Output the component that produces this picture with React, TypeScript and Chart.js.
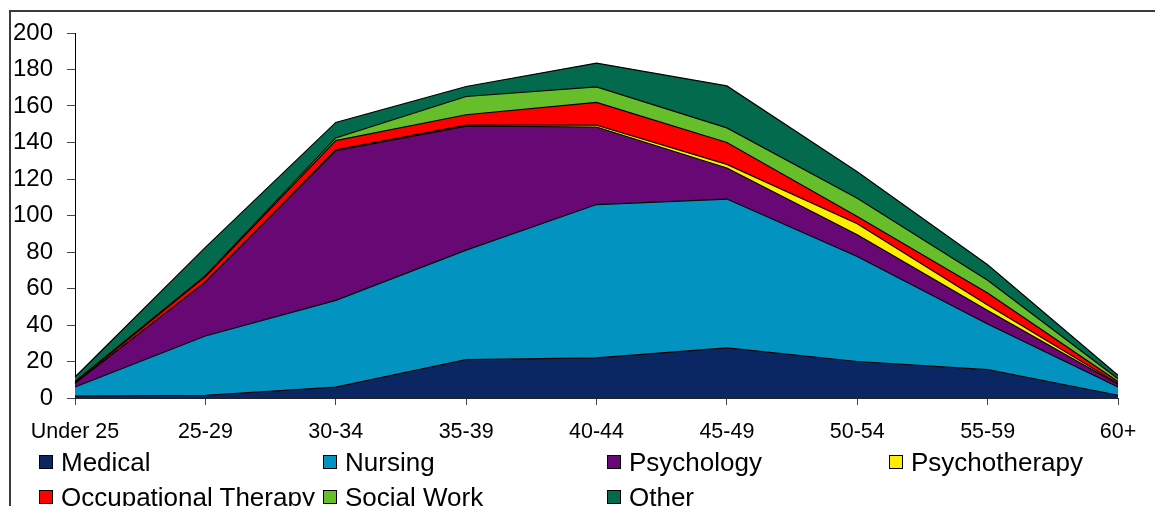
import React, { useEffect, useRef } from "react";
import { Chart, registerables } from "chart.js";

Chart.register(...registerables);

const categories = ["Under 25", "25-29", "30-34", "35-39", "40-44", "45-49", "50-54", "55-59", "60+"];
const medical = [1, 1.5, 6, 21, 22, 27.5, 20, 15.5, 1.5];
const nursing = [5, 32.5, 47.5, 60, 84, 81.5, 57.5, 25, 4.5];
const psychology = [2, 29.5, 82, 68, 42.5, 17, 12, 7.5, 1.5];
const psychotherapy = [0, 0, 0.5, 0.5, 1, 2, 6, 3, 0.5];
const occupationalTherapy = [0.5, 3, 5, 5.7, 12.5, 12, 4, 6.5, 1];
const socialWork = [0.5, 0.5, 1.5, 10, 8.5, 8, 10, 7, 1.5];
const other = [2.5, 15.5, 8.5, 5.5, 13, 23, 14.5, 8.5, 2];

const seriesNames = ["Medical", "Nursing", "Psychology", "Psychotherapy", "Occupational Therapy", "Social Work", "Other"];
const seriesData = [medical, nursing, psychology, psychotherapy, occupationalTherapy, socialWork, other];
const seriesColors = ["#0A2764", "#0393C0", "#680874", "#FFEE00", "#FF0000", "#66BF2A", "#036A4E"];

const yMin = 0;
const yMax = 200;
const yStep = 20;

const FONT = "'Liberation Sans', Arial, sans-serif";

export default function App() {
  const canvasRef = useRef<HTMLCanvasElement | null>(null);

  useEffect(() => {
    document.body.style.overflow = "hidden";
    const canvas = canvasRef.current;
    if (!canvas) return;
    const chart = new Chart(canvas, {
      type: "line",
      data: {
        labels: categories,
        datasets: seriesNames.map((name, i) => ({
          label: name,
          data: seriesData[i],
          backgroundColor: seriesColors[i],
          borderColor: "#000000",
          borderWidth: 1.2,
          fill: i === 0 ? "origin" : "-1",
          pointRadius: 0,
          pointHoverRadius: 0,
          tension: 0,
        })),
      },
      options: {
        responsive: false,
        animation: false,
        layout: { padding: { left: 0, top: 33, right: 37, bottom: 0 } },
        plugins: {
          legend: { display: false },
          tooltip: { enabled: false },
        },
        scales: {
          x: {
            offset: false,
            grid: { display: true, drawOnChartArea: false, drawTicks: true, tickLength: 7, color: "#444" },
            border: { display: true, color: "#222", width: 1 },
            ticks: { font: { family: FONT, size: 21.5 }, color: "#000", padding: 14, maxRotation: 0, autoSkip: false },
            afterFit: (s: any) => {
              s.height = 108;
            },
          },
          y: {
            stacked: true,
            min: yMin,
            max: yMax,
            ticks: { stepSize: yStep, font: { family: FONT, size: 24 }, color: "#000", padding: 14 },
            grid: { display: true, drawOnChartArea: false, drawTicks: true, tickLength: 8, color: "#444" },
            border: { display: true, color: "#000", width: 1 },
            afterFit: (s: any) => {
              s.width = 75;
            },
          },
        },
      },
    });
    return () => chart.destroy();
  }, []);

  const colLeft = [62, 346, 630, 912];
  return (
    <div>
      <div
        style={{
          position: "fixed",
          left: 9,
          top: 10,
          width: 1300,
          height: 700,
          border: "2px solid #3a3a3a",
          boxSizing: "border-box",
        }}
      />
      <canvas
        ref={canvasRef}
        width={1155}
        height={506}
        style={{ position: "fixed", left: 0, top: 0, width: 1155, height: 506 }}
      />
      {seriesNames.map((name, i) => {
        const row = Math.floor(i / 4);
        const col = i % 4;
        const left = colLeft[col];
        const top = 450 + row * 35;
        return (
          <div key={name}>
            <div
              style={{
                position: "fixed",
                left: left - 23,
                top: top + 5,
                width: 14,
                height: 14,
                boxSizing: "border-box",
                border: "1px solid #000",
                background: seriesColors[i],
              }}
            />
            <div
              style={{
                position: "fixed",
                left: left - 1,
                top: top,
                fontFamily: FONT,
                fontSize: 26,
                lineHeight: "25px",
                color: "#000",
                whiteSpace: "nowrap",
              }}
            >
              {name}
            </div>
          </div>
        );
      })}
    </div>
  );
}
